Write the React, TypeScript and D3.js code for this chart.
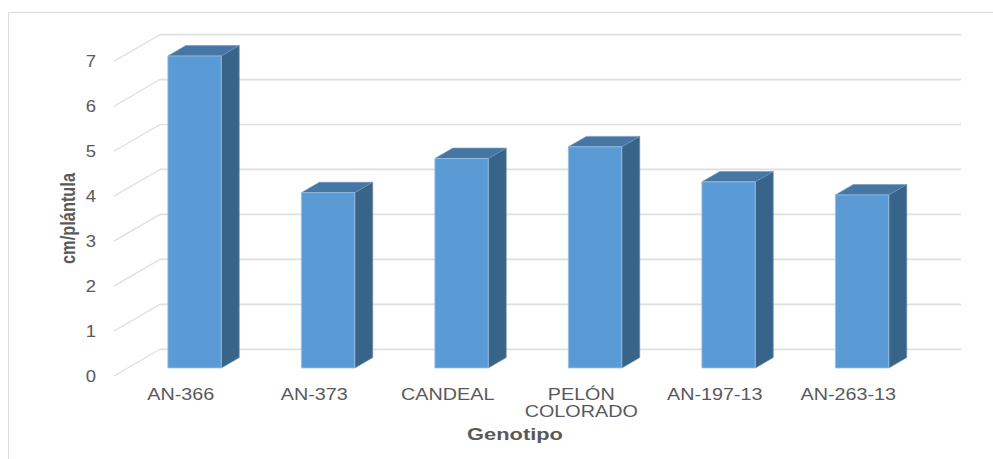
import React from "react";
import * as d3 from "d3";

const genotypes = ["AN-366", "AN-373", "CANDEAL", "PELÓN COLORADO", "AN-197-13", "AN-263-13"];
const growth = [6.94, 3.9, 4.66, 4.92, 4.14, 3.85];
const yTicks = [0, 1, 2, 3, 4, 5, 6, 7];
const xTitle = "Genotipo";
const yTitle = "cm/plántula";

const WIDTH = 993;
const HEIGHT = 459;
// Floor and wall offset of the pseudo-3D box, and how far the bars sit inside it.
const DEPTH = { x: 46, y: -26.7 };
const BAR_INSET = 0.3;
const BAR_DEPTH = 0.39;
const FONT = "'Liberation Sans', Arial, sans-serif";

const x = d3.scaleBand<string>().domain(genotypes).range([114, 915]).paddingInner(0.6).paddingOuter(0.3);
const y = d3.scaleLinear().domain([0, 7]).range([376, 61.3]);

function Label({ cx, cy, children, size = 15.5, weight = 400, stretch = 1.2 }: any) {
  return (
    <text
      transform={`translate(${cx},${cy}) scale(${stretch},1)`}
      textAnchor="middle"
      fontFamily={FONT}
      fontSize={size}
      fontWeight={weight}
      fill="#595959"
    >
      {children}
    </text>
  );
}

function Bar({ name, value }: { name: string; value: number }) {
  const x0 = (x(name) as number) + DEPTH.x * BAR_INSET;
  const x1 = x0 + x.bandwidth();
  const dy = DEPTH.y * BAR_INSET;
  const bottom = y(0) + dy;
  const top = y(value) + dy;
  const dx = DEPTH.x * BAR_DEPTH;
  const rise = DEPTH.y * BAR_DEPTH;
  const poly = (pts: [number, number][]) => pts.map((p) => p.join(",")).join(" ");
  return (
    <g strokeWidth={1} strokeLinejoin="round">
      <polygon
        points={poly([[x1, top], [x1 + dx, top + rise], [x1 + dx, bottom + rise], [x1, bottom]])}
        fill="#376488"
        stroke="#5f87a8"
        strokeWidth={0.7}
      />
      <polygon
        points={poly([[x0, top], [x0 + dx, top + rise], [x1 + dx, top + rise], [x1, top]])}
        fill="#4676a3"
        stroke="#6f98bf"
        strokeWidth={0.6}
      />
      <rect x={x0} y={top} width={x1 - x0} height={bottom - top} fill="#5b9bd5" stroke="#9cc3e6" strokeWidth={0.8} />
    </g>
  );
}

export default function App() {
  return (
    <svg
      width={WIDTH}
      height={HEIGHT}
      viewBox={`0 0 ${WIDTH} ${HEIGHT}`}
      style={{ position: "absolute", left: 0, top: 0, display: "block", background: "#fff" }}
    >
      {/* Chart frame: only its top and left edges fall inside the canvas */}
      <path d={`M8.5,${HEIGHT}V12.5H${WIDTH}`} fill="none" stroke="#dcdcdc" strokeWidth={1} />

      {/* Gridlines along the side wall and back wall */}
      <g fill="none" stroke="#dfdfdf">
        {yTicks.map((t) => (
          <g key={t}>
            <line x1={114} y1={y(t)} x2={114 + DEPTH.x} y2={y(t) + DEPTH.y} strokeWidth={1.3} />
            <line x1={114 + DEPTH.x} y1={y(t) + DEPTH.y} x2={961} y2={y(t) + DEPTH.y} strokeWidth={1.7} />
          </g>
        ))}
      </g>

      {genotypes.map((g, i) => (
        <Bar key={g} name={g} value={growth[i]} />
      ))}

      {yTicks.map((t) => (
        <Label key={t} cx={91} cy={y(t) + 5.8} size={16.5} stretch={1.12}>
          {t}
        </Label>
      ))}

      {genotypes.map((g) => {
        const cx = (x(g) as number) + x.bandwidth() / 2;
        const lines = g === "PELÓN COLORADO" ? g.split(" ") : [g];
        return lines.map((line, i) => (
          <Label key={line} cx={cx} cy={399.5 + i * 17} size={16.2} stretch={1.22}>
            {line}
          </Label>
        ));
      })}

      <Label cx={515} cy={440} size={16.3} weight={700} stretch={1.34}>
        {xTitle}
      </Label>

      <text
        transform="translate(75,218.5) rotate(-90) scale(0.78,1)"
        textAnchor="middle"
        fontFamily={FONT}
        fontSize={21}
        fontWeight={700}
        fill="#595959"
      >
        {yTitle}
      </text>
    </svg>
  );
}
